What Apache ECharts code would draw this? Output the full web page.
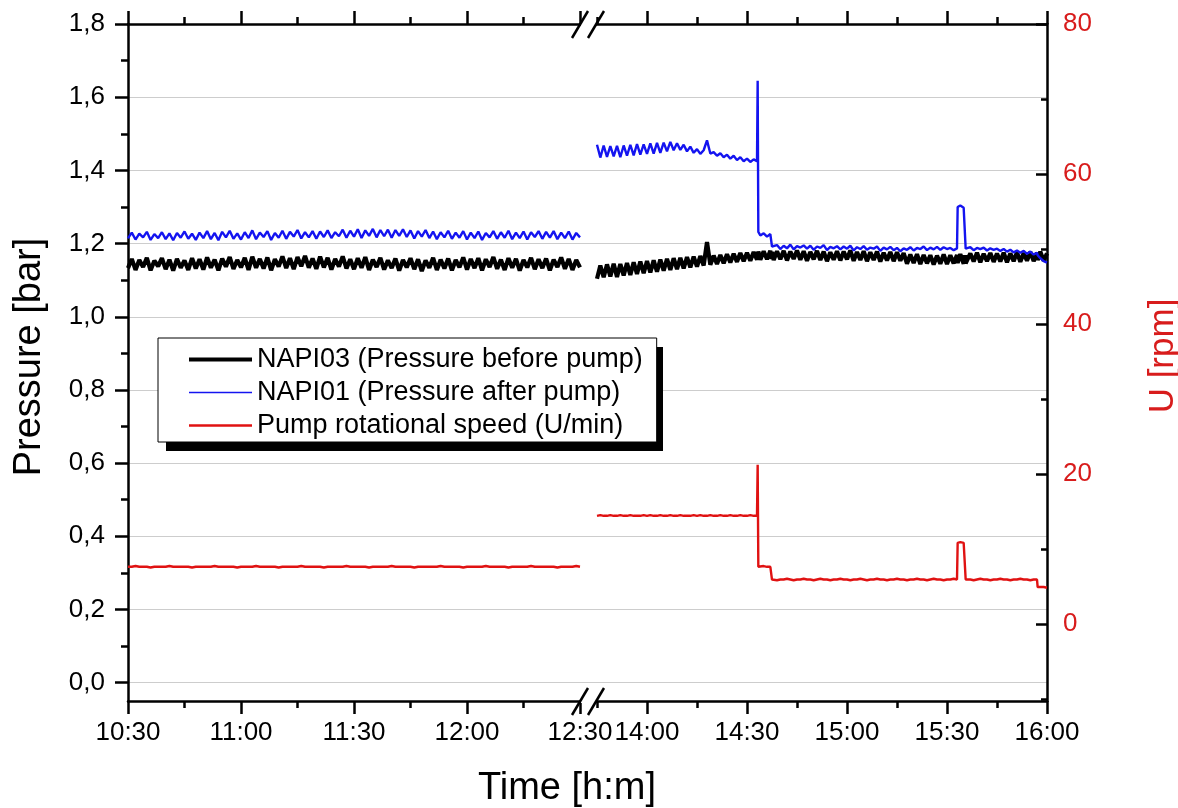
<!DOCTYPE html>
<html>
<head>
<meta charset="utf-8">
<script src="https://cdn.jsdelivr.net/npm/echarts@6/dist/echarts.min.js"></script>
<style>html,body{margin:0;padding:0;background:#fff}#c{width:1178px;height:808px}</style>
</head>
<body>
<div id="c"></div>
<script>
// ---------------- DATA ----------------
const seriesNames = ['NAPI03 (Pressure before pump)', 'NAPI01 (Pressure after pump)', 'Pump rotational speed (U/min)'];

// Morning segment: one sample per minute starting at leftStart (10:30 .. 12:30)
const leftStart = '10:30';
const leftBlack = [
1.133,1.158,1.128,1.155,1.136,1.161,1.127,1.153,1.138,1.160,
1.130,1.156,1.126,1.158,1.134,1.154,1.128,1.160,1.132,1.157,
1.129,1.162,1.134,1.156,1.127,1.159,1.137,1.163,1.131,1.155,
1.135,1.161,1.128,1.164,1.134,1.158,1.132,1.162,1.127,1.157,
1.137,1.165,1.133,1.160,1.130,1.163,1.138,1.166,1.134,1.159,
1.131,1.164,1.135,1.161,1.129,1.158,1.137,1.165,1.132,1.157,
1.130,1.160,1.134,1.163,1.128,1.156,1.136,1.161,1.129,1.154,
1.133,1.159,1.126,1.155,1.135,1.160,1.130,1.157,1.125,1.154,
1.134,1.161,1.128,1.156,1.132,1.159,1.127,1.155,1.135,1.162,
1.129,1.158,1.133,1.160,1.127,1.157,1.136,1.163,1.131,1.156,
1.128,1.160,1.134,1.158,1.126,1.155,1.135,1.161,1.130,1.157,
1.133,1.159,1.127,1.156,1.136,1.162,1.131,1.158,1.128,1.155,
1.135];
const leftBlue = [
1.214,1.230,1.211,1.227,1.217,1.232,1.210,1.226,1.215,1.231,
1.212,1.228,1.209,1.229,1.216,1.233,1.213,1.227,1.210,1.230,
1.215,1.234,1.212,1.229,1.209,1.232,1.217,1.235,1.213,1.228,
1.211,1.231,1.215,1.236,1.212,1.230,1.218,1.234,1.210,1.229,
1.216,1.235,1.213,1.232,1.219,1.237,1.214,1.231,1.217,1.234,
1.213,1.233,1.218,1.236,1.215,1.231,1.220,1.238,1.216,1.235,
1.219,1.239,1.215,1.236,1.221,1.240,1.217,1.237,1.220,1.238,
1.216,1.237,1.221,1.239,1.218,1.236,1.214,1.234,1.219,1.237,
1.215,1.233,1.212,1.231,1.217,1.235,1.213,1.230,1.216,1.234,
1.211,1.230,1.215,1.233,1.210,1.229,1.217,1.234,1.213,1.231,
1.216,1.235,1.212,1.230,1.215,1.233,1.211,1.231,1.218,1.234,
1.213,1.232,1.216,1.234,1.212,1.230,1.215,1.233,1.211,1.229,
1.217];
const leftRed = [
7.6,7.6,7.7,7.6,7.6,7.6,7.5,7.6,7.6,7.6,
7.6,7.7,7.6,7.6,7.6,7.6,7.6,7.5,7.6,7.6,
7.6,7.6,7.6,7.7,7.6,7.6,7.6,7.6,7.6,7.5,
7.6,7.6,7.6,7.6,7.7,7.6,7.6,7.6,7.6,7.6,
7.5,7.6,7.6,7.6,7.6,7.6,7.7,7.6,7.6,7.6,
7.6,7.6,7.5,7.6,7.6,7.6,7.6,7.6,7.7,7.6,
7.6,7.6,7.6,7.6,7.5,7.6,7.6,7.6,7.6,7.6,
7.7,7.6,7.6,7.6,7.6,7.6,7.5,7.6,7.6,7.6,
7.6,7.6,7.6,7.7,7.6,7.6,7.6,7.6,7.6,7.5,
7.6,7.6,7.6,7.6,7.6,7.7,7.6,7.6,7.6,7.6,
7.6,7.5,7.6,7.6,7.6,7.6,7.6,7.7,7.6,7.6,
7.6,7.6,7.6,7.6,7.5,7.6,7.6,7.6,7.6,7.7,
7.6];

// Afternoon segment: sample times in minutes since midnight (13:45 .. 16:00)
const rightTimes = [
825,826,827,828,829,830,831,832,833,834,
835,836,837,838,839,840,841,842,843,844,
845,846,847,848,849,850,851,852,853,854,
855,856,857,858,859,860,861,862,863,864,
865,866,867,868,869,870,871,872,
873,873.2,873.4,874,875,876,877,877.4,877.5,
878,879,880,881,882,883,884,885,886,887,
888,889,890,891,892,893,894,895,896,897,
898,899,900,901,902,903,904,905,906,907,
908,909,910,911,912,913,914,915,916,917,
918,919,920,921,922,923,924,925,926,927,
928,929,930,931,932,933,
933.2,934,935,935.4,935.6,
936,937,938,939,940,941,942,943,944,945,
946,947,948,949,950,951,952,953,954,955,
956,957,957.2,958,959,960];
const rightBlack = [
1.104,1.140,1.108,1.143,1.110,1.145,1.109,1.144,1.113,1.147,
1.114,1.149,1.117,1.151,1.119,1.152,1.121,1.154,1.123,1.156,
1.126,1.158,1.128,1.160,1.130,1.161,1.132,1.163,1.135,1.164,
1.137,1.166,1.140,1.204,1.142,1.167,1.144,1.169,1.146,1.171,
1.148,1.172,1.150,1.174,1.152,1.175,1.153,1.177,
1.156,1.170,1.178,1.156,1.179,1.157,1.180,1.158,1.177,
1.155,1.179,1.157,1.180,1.154,1.178,1.158,1.181,1.156,1.179,
1.153,1.177,1.157,1.180,1.155,1.178,1.152,1.176,1.156,1.179,
1.154,1.178,1.157,1.181,1.153,1.177,1.155,1.179,1.152,1.176,
1.155,1.178,1.151,1.175,1.154,1.177,1.152,1.176,1.153,1.174,
1.145,1.170,1.147,1.171,1.144,1.169,1.146,1.168,1.143,1.167,
1.145,1.170,1.144,1.168,1.146,1.169,
1.147,1.171,1.145,1.168,1.146,
1.150,1.173,1.151,1.175,1.149,1.172,1.152,1.174,1.150,1.173,
1.151,1.175,1.149,1.173,1.152,1.176,1.150,1.174,1.153,1.177,
1.152,1.175,1.155,1.178,1.153,1.173];
const rightBlue = [
1.470,1.435,1.468,1.437,1.466,1.438,1.467,1.436,1.468,1.440,
1.470,1.441,1.472,1.443,1.471,1.445,1.474,1.446,1.475,1.448,
1.476,1.452,1.478,1.455,1.474,1.456,1.470,1.452,1.465,1.448,
1.458,1.445,1.455,1.482,1.446,1.450,1.440,1.447,1.436,1.443,
1.432,1.440,1.428,1.436,1.425,1.432,1.423,1.430,
1.425,1.645,1.232,1.222,1.228,1.219,1.226,1.224,1.192,
1.188,1.196,1.185,1.194,1.187,1.197,1.184,1.193,1.189,1.195,
1.186,1.194,1.183,1.192,1.188,1.196,1.182,1.191,1.187,1.193,
1.184,1.192,1.186,1.194,1.181,1.190,1.185,1.193,1.183,1.189,
1.186,1.192,1.180,1.189,1.184,1.191,1.182,1.188,1.179,1.187,
1.183,1.190,1.181,1.188,1.185,1.192,1.182,1.189,1.184,1.191,
1.183,1.190,1.185,1.188,1.182,1.187,
1.300,1.304,1.298,1.296,1.186,
1.184,1.190,1.182,1.188,1.185,1.189,1.181,1.187,1.183,1.186,
1.180,1.185,1.178,1.183,1.176,1.181,1.175,1.180,1.172,1.178,
1.170,1.175,1.168,1.160,1.152,1.148];
const rightRed = [
14.4,14.5,14.4,14.4,14.5,14.4,14.4,14.5,14.4,14.4,
14.5,14.4,14.4,14.4,14.5,14.4,14.5,14.4,14.4,14.5,
14.4,14.4,14.5,14.4,14.4,14.5,14.4,14.4,14.4,14.5,
14.4,14.5,14.4,14.4,14.5,14.4,14.4,14.5,14.4,14.4,
14.5,14.4,14.4,14.5,14.4,14.4,14.5,14.4,
14.4,21.2,7.6,7.6,7.7,7.6,7.6,7.6,5.9,
5.9,5.8,5.9,5.9,6.0,5.9,5.8,5.9,5.9,6.0,
5.9,5.9,5.8,5.9,6.0,5.9,5.9,5.8,5.9,5.9,
6.0,5.9,5.9,5.8,5.9,5.9,6.0,5.9,5.8,5.9,
5.9,6.0,5.9,5.9,5.8,5.9,5.9,6.0,5.9,5.9,
5.8,5.9,5.9,6.0,5.9,5.9,5.8,5.9,6.0,5.9,
5.9,5.8,5.9,5.9,6.0,5.9,
10.8,10.9,10.8,10.8,5.9,
5.9,5.9,5.8,5.9,6.0,5.9,5.9,5.8,5.9,5.9,
6.0,5.9,5.9,5.8,5.9,5.9,6.0,5.9,5.9,5.8,
5.9,5.9,4.9,4.9,4.9,4.8];

// Tick labels
const leftTimeTicks = ['10:30', '11:00', '11:30', '12:00', '12:30'];
const rightTimeTicks = ['14:00', '14:30', '15:00', '15:30', '16:00'];
const pressureTicks = [0, 0.2, 0.4, 0.6, 0.8, 1.0, 1.2, 1.4, 1.6, 1.8];
const rpmTicks = [0, 20, 40, 60, 80];

// ---------------- LAYOUT / STYLE ----------------
const FONT = '"Liberation Sans", Arial, Helvetica, sans-serif';
const PLOT_TOP = 24, PLOT_BOTTOM = 701, LEFT_X = 128, BREAK_X = 588, RIGHT_X = 1047;
const LEFT_PX_PER_30MIN = 113, RIGHT_PX_PER_30MIN = 100;
const BLACK = '#000000', BLUE = '#1414f0', RED = '#e01212', RED_TEXT = '#d81c1c';

function toMin(s) { const p = s.split(':'); return (+p[0]) * 60 + (+p[1]); }
function fmtTime(v) {
  const m = Math.round(v), h = Math.floor(m / 60), mm = m - h * 60;
  return h + ':' + (mm < 10 ? '0' : '') + mm;
}
const leftT0 = toMin(leftStart);
const xLmin = toMin('10:30');
const xLmax = xLmin + (BREAK_X - LEFT_X) * 30 / LEFT_PX_PER_30MIN;
const xRmax = toMin('16:00');
const xRmin = xRmax - (RIGHT_X - BREAK_X) * 30 / RIGHT_PX_PER_30MIN;
const P_MIN = -0.05, P_MAX = 1.8, R_MIN = -10.3, R_MAX = 80;

const axLine = { show: true, onZero: false, lineStyle: { color: '#000', width: 2.5 } };
const tickLS = { color: '#000', width: 2.5 };

function xAx(grid, pos, min, max, ticks, showLabels, splitNumber) {
  const vals = ticks.map(toMin);
  return {
    type: 'value', gridIndex: grid, position: pos, min: min, max: max, splitNumber: splitNumber,
    axisLine: axLine,
    axisTick: { show: true, inside: false, customValues: vals, length: 13, lineStyle: tickLS },
    minorTick: { show: true, splitNumber: 2, length: 7, lineStyle: tickLS },
    axisLabel: { show: showLabels, customValues: vals, formatter: fmtTime, color: '#000',
                 fontSize: 26, fontFamily: FONT, margin: 19 },
    splitLine: { show: false }, minorSplitLine: { show: false }
  };
}

const gridLine = { show: true, lineStyle: { color: '#cdcdcd', width: 1 } };

const LEGEND_BOX = { x: 158, y: 338, w: 497, h: 104, shadow: [8, 9] };

const option = {
  backgroundColor: '#ffffff',
  animation: false,
  grid: [
    { left: LEFT_X, top: PLOT_TOP, width: BREAK_X - LEFT_X, height: PLOT_BOTTOM - PLOT_TOP, containLabel: false, outerBoundsMode: 'none' },
    { left: BREAK_X, top: PLOT_TOP, width: RIGHT_X - BREAK_X, height: PLOT_BOTTOM - PLOT_TOP, containLabel: false, outerBoundsMode: 'none' }
  ],
  xAxis: [
    xAx(0, 'bottom', xLmin, xLmax, leftTimeTicks, true, 4),
    xAx(0, 'top', xLmin, xLmax, leftTimeTicks, false, 4),
    xAx(1, 'bottom', xRmin, xRmax, rightTimeTicks, true, 5),
    xAx(1, 'top', xRmin, xRmax, rightTimeTicks, false, 5)
  ],
  yAxis: [
    { type: 'value', gridIndex: 0, position: 'left', min: P_MIN, max: P_MAX, splitNumber: 9,
      axisLine: axLine,
      axisTick: { show: true, inside: false, customValues: pressureTicks, length: 13, lineStyle: tickLS },
      minorTick: { show: true, splitNumber: 2, length: 7, lineStyle: tickLS },
      axisLabel: { customValues: pressureTicks, formatter: v => (Math.round(v * 10) / 10).toFixed(1).replace('.', ','),
                   color: '#000', fontSize: 26, fontFamily: FONT, margin: 23 },
      splitLine: gridLine, minorSplitLine: { show: false } },
    { type: 'value', gridIndex: 0, position: 'right', min: R_MIN, max: R_MAX, show: false },
    { type: 'value', gridIndex: 1, position: 'left', min: P_MIN, max: P_MAX, splitNumber: 9,
      axisLine: { show: false, onZero: false },
      axisTick: { show: false, customValues: pressureTicks },
      axisLabel: { show: false, customValues: pressureTicks },
      splitLine: gridLine, minorTick: { show: false } },
    { type: 'value', gridIndex: 1, position: 'right', min: R_MIN, max: R_MAX, splitNumber: 5,
      axisLine: axLine,
      axisTick: { show: true, inside: true, customValues: rpmTicks, length: 11, lineStyle: tickLS },
      minorTick: { show: true, splitNumber: 2, length: 6, lineStyle: tickLS },
      axisLabel: { customValues: rpmTicks, color: RED_TEXT, fontSize: 26, fontFamily: FONT, margin: 16 },
      splitLine: { show: false }, minorSplitLine: { show: false } }
  ],
  legend: {
    orient: 'vertical', left: LEGEND_BOX.x, top: LEGEND_BOX.y,
    data: [
      { name: seriesNames[0], lineStyle: { width: 4 } },
      { name: seriesNames[1], lineStyle: { width: 1.5 } },
      { name: seriesNames[2], lineStyle: { width: 2.5 } }
    ],
    itemWidth: 63, itemHeight: 14, itemGap: 6,
    padding: [8, 14, 3, 29],
    backgroundColor: '#ffffff', borderColor: '#000', borderWidth: 1, borderRadius: 0,
    itemStyle: { opacity: 0 },
    textStyle: { fontSize: 27, color: '#000', fontFamily: FONT },
    selectedMode: false
  },
  graphic: [],
  series: []
};

const colors = [BLACK, BLUE, RED];
const widths = [4.2, 2.4, 2.4];
function mk(i, xi, yi, data) {
  return { name: seriesNames[i], type: 'line', xAxisIndex: xi, yAxisIndex: yi, data: data,
           symbol: 'none', showSymbol: false, silent: true, animation: false,
           lineStyle: { color: colors[i], width: widths[i] }, itemStyle: { color: colors[i] } };
}
option.series = [
  mk(0, 0, 0, leftBlack.map((v, k) => [leftT0 + k, v])),
  mk(0, 2, 2, rightTimes.map((t, k) => [t, rightBlack[k]])),
  mk(1, 0, 0, leftBlue.map((v, k) => [leftT0 + k, v])),
  mk(1, 2, 2, rightTimes.map((t, k) => [t, rightBlue[k]])),
  mk(2, 0, 1, leftRed.map((v, k) => [leftT0 + k, v])),
  mk(2, 2, 3, rightTimes.map((t, k) => [t, rightRed[k]]))
];

// axis titles
function title(text, x, y, rot, color, size) {
  return { type: 'text', x: x, y: y, rotation: rot, z: 100,
    style: { text: text, fill: color, font: size + 'px ' + FONT, fontSize: size, fontFamily: FONT,
             textAlign: 'center', align: 'center', textVerticalAlign: 'middle', verticalAlign: 'middle' } };
}
// axis break marks
function breakMark(bx, ay) {
  return [
    { type: 'rect', z: 100, shape: { x: bx - 7, y: ay - 2, width: 15, height: 4 }, style: { fill: '#fff' } },
    { type: 'line', z: 101, shape: { x1: bx - 16, y1: ay + 14, x2: bx, y2: ay - 13 }, style: { stroke: '#000', lineWidth: 2.5 } },
    { type: 'line', z: 101, shape: { x1: bx, y1: ay + 14, x2: bx + 16, y2: ay - 13 }, style: { stroke: '#000', lineWidth: 2.5 } }
  ];
}
// legend drop shadow (hard black offset box)
const legendShadow = { type: 'rect', z: 3,
  shape: { x: LEGEND_BOX.x + LEGEND_BOX.shadow[0], y: LEGEND_BOX.y + LEGEND_BOX.shadow[1], width: LEGEND_BOX.w, height: LEGEND_BOX.h },
  style: { fill: '#000' } };

option.graphic = [
  legendShadow,
  title('Pressure [bar]', 30, 357, Math.PI / 2, '#000', 38),
  title('Time [h:m]', 567, 789, 0, '#000', 38),
  title('U [rpm]', 1163, 356, Math.PI / 2, RED_TEXT, 35)
].concat(breakMark(BREAK_X, PLOT_TOP), breakMark(BREAK_X, PLOT_BOTTOM));

const chart = echarts.init(document.getElementById('c'), null, { renderer: 'canvas' });
chart.setOption(option);
</script>
</body>
</html>
